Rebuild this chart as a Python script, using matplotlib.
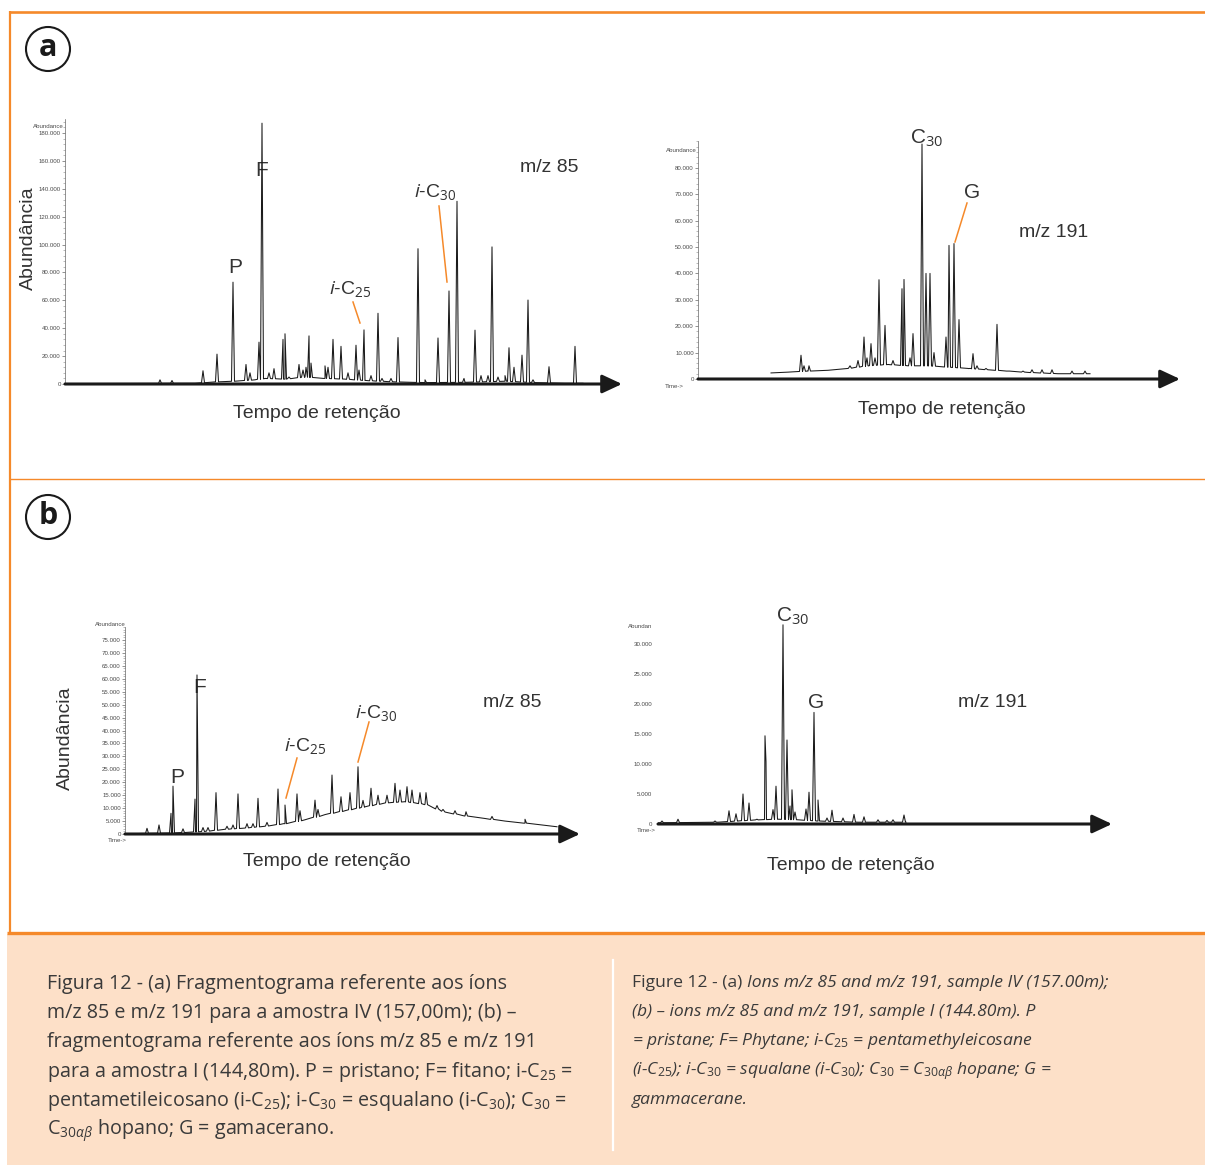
import numpy as np
import matplotlib
matplotlib.use('Agg')
import matplotlib.pyplot as plt
from matplotlib.patches import Circle, Rectangle
from matplotlib.ticker import FuncFormatter, MultipleLocator

# ---- data (retention in arbitrary units, abundance in counts)

# (a) m/z 85, sample IV
a85_base_rt = [0, 13, 15, 17, 19, 20, 22, 24, 26, 28, 30, 33, 36, 40, 44, 47, 50, 51.8]
a85_base_y = [300, 500, 1500, 2000, 3000, 4000, 3500, 5000, 4000, 3500, 2500, 1500, 1000, 1200, 2000, 1000, 500, 500]
a85_peak_rt = [9.5, 10.7, 13.8, 15.2, 16.8, 18.1, 18.5, 19.4, 19.7, 20.4, 20.9, 21.8, 22.0, 22.4,
               23.4, 23.8, 24.1, 24.4, 24.6, 26.0, 26.3, 26.8, 27.6, 28.3, 29.1, 29.4, 29.9, 30.6,
               31.3, 31.7, 32.6, 33.3, 35.3, 36.0, 37.3, 38.4, 39.2, 39.9, 41.0, 41.6, 42.3, 42.7,
               43.3, 44.0, 44.4, 44.9, 45.7, 46.3, 46.8, 48.4, 51.0]
a85_peak_h = [3000, 2500, 9500, 21400, 73000, 14000, 8000, 30000, 187000, 8000, 11000, 32000, 36000, 5000,
              14000, 10000, 12000, 34500, 15000, 13000, 12000, 32000, 27000, 8000, 27800, 10000, 38800, 6000,
              50700, 4000, 4000, 33300, 97000, 3000, 33000, 66700, 131000, 4000, 38600, 6000, 6000, 98300,
              5000, 6000, 26000, 12000, 20700, 60200, 3000, 12400, 27000]

# (a) m/z 191, sample IV
a191_base_rt = [7.3, 9, 11, 13, 15, 17, 19, 21, 23, 25, 27, 29, 31, 33, 36, 39.2]
a191_base_y = [2300, 2600, 3000, 3300, 4000, 5000, 5500, 5000, 5000, 4500, 4000, 3500, 3000, 2500, 2000, 2000]
a191_peak_rt = [10.3, 10.6, 11.1, 15.2, 16.0, 16.6, 16.9, 17.3, 17.7, 18.1, 18.7, 19.5, 20.4, 20.6,
                21.2, 21.5, 22.4, 22.8, 23.2, 23.6, 24.8, 25.1, 25.6, 26.1, 27.2, 27.5, 27.9, 28.8,
                29.9, 31.0, 32.5, 33.4, 34.4, 35.4, 37.4, 38.7]
a191_peak_h = [9000, 5000, 5000, 5000, 7000, 15900, 8000, 13400, 8000, 37600, 20300, 7000, 34200, 37700,
               8000, 17200, 89000, 40000, 40000, 10000, 15900, 50600, 51300, 22500, 4000, 9600, 5000, 4000,
               20700, 3000, 3000, 3500, 3500, 3500, 3000, 3000]

# (b) m/z 85, sample I
b85_base_rt = [1.5, 5, 8, 10, 12, 14, 16, 18, 20, 22, 24, 26, 28, 30, 32, 34, 36, 38, 40, 43.2]
b85_base_y = [200, 400, 1000, 1800, 2300, 3000, 4000, 5500, 7500, 9000, 10500, 12000, 12500, 11500,
              8500, 7000, 6000, 5000, 4200, 2800]
b85_peak_rt = [2.2, 3.4, 4.6, 4.8, 5.8, 7.0, 7.2, 7.8, 8.3, 9.1, 10.2, 10.8, 11.3, 12.2, 12.8, 13.3,
               14.2, 15.3, 16.0, 17.2, 17.5, 19.0, 19.3, 20.7, 21.6, 22.5, 23.3, 23.8, 24.6, 25.3,
               26.2, 27.0, 27.5, 28.2, 28.7, 29.5, 30.1, 31.2, 31.8, 33.0, 34.1, 36.7, 40.0]
b85_peak_h = [2200, 3500, 8000, 18500, 2000, 13500, 61500, 2500, 2500, 16000, 3000, 3500, 15500, 4000, 4000, 13800,
              4500, 17400, 11200, 15500, 9000, 13100, 9500, 22800, 14400, 16000, 26000, 13000, 17700, 15000,
              15000, 19600, 17000, 18300, 17000, 16000, 16000, 11000, 9500, 9000, 8600, 6800, 5700]

# (b) m/z 191, sample I
b191_base_rt = [0, 6, 8, 10, 12, 14, 16, 18, 20, 24.8]
b191_base_y = [200, 300, 500, 700, 800, 700, 500, 400, 300, 300]
b191_peak_rt = [0.4, 2.0, 5.7, 7.1, 7.8, 8.5, 9.1, 9.9, 10.7, 10.8, 11.5, 11.8, 12.5, 12.9, 13.2, 13.4,
                13.7, 14.8, 15.1, 15.6, 16.0, 16.9, 17.4, 18.5, 19.6, 20.6, 22.0, 22.9, 23.5, 24.6]
b191_peak_h = [500, 800, 500, 2200, 1700, 5000, 3500, 800, 14700, 10400, 2400, 6300, 33200, 14000, 3000, 5700,
               2000, 2500, 5300, 18600, 4000, 1000, 2300, 1000, 1600, 1200, 700, 600, 700, 1500]

caption_pt = [
    "Figura 12 - (a) Fragmentograma referente aos íons",
    "m/z 85 e m/z 191 para a amostra IV (157,00m); (b) –",
    "fragmentograma referente aos íons m/z 85 e m/z 191",
    "para a amostra I (144,80m). P = pristano; F= fitano; i-C$_{25}$ =",
    "pentametileicosano (i-C$_{25}$); i-C$_{30}$ = esqualano (i-C$_{30}$); C$_{30}$ =",
    "C$_{30\\alpha\\beta}$ hopano; G = gamacerano.",
]
caption_en_head = "Figure 12 - (a) "
caption_en = [
    "Ions m/z 85 and m/z 191, sample IV (157.00m);",
    "(b) – ions m/z 85 and m/z 191, sample I (144.80m). P",
    "= pristane; F= Phytane; i-C$_{\\mathit{25}}$ = pentamethyleicosane",
    "(i-C$_{\\mathit{25}}$); i-C$_{\\mathit{30}}$ = squalane (i-C$_{\\mathit{30}}$); C$_{\\mathit{30}}$ = "
    "C$_{\\mathit{30}\\alpha\\beta}$ hopane; G =",
    "gammacerane.",
]

ORANGE = '#F5892A'
PEACH = '#FDE0C8'
INK = '#333333'
W, H = 1205, 1165

plt.rcParams['font.family'] = ['Liberation Sans', 'DejaVu Sans']
plt.rcParams['mathtext.fontset'] = 'custom'
plt.rcParams['mathtext.rm'] = 'Open Sans'
plt.rcParams['mathtext.it'] = 'Open Sans:italic'

fig = plt.figure(figsize=(W / 100, H / 100), dpi=100)

# full-figure overlay in pixel units
ov = fig.add_axes([0, 0, 1, 1])
ov.set_xlim(0, W)
ov.set_ylim(H, 0)
ov.axis('off')

# frames
ov.add_patch(Rectangle((7, 934), W - 7, H - 934, fc=PEACH, ec='none'))
ov.plot([9, W], [12, 12], color=ORANGE, lw=1.9, solid_capstyle='butt')
ov.plot([10, 10], [11, 934], color=ORANGE, lw=1.6, solid_capstyle='butt')
ov.plot([10, W], [478.5, 478.5], color=ORANGE, lw=1.0)
ov.plot([7, W], [933, 933], color=ORANGE, lw=2.4, solid_capstyle='butt')
ov.plot([613, 613], [960, 1150], color='white', lw=1.6)

for lab, cy, base in [('a', 49, 56), ('b', 517, 524)]:
    ov.add_patch(Circle((48, cy), 22, fill=False, lw=1.5, ec='#1a1a1a'))
    ov.text(48, base, lab, ha='center', va='baseline', fontsize=22, fontweight='bold',
            family='Open Sans', color='#1a1a1a')


def px_axes(x0, x1, y_top, y_bot):
    return fig.add_axes([x0 / W, 1 - y_bot / H, (x1 - x0) / W, (y_bot - y_top) / H])


def trace(base_rt, base_y, pk_rt, pk_h, w=0.15):
    xs = list(base_rt)
    ys = list(base_y)
    for r, h in zip(pk_rt, pk_h):
        b = np.interp(r, base_rt, base_y)
        xs += [r - w, r, r + w]
        ys += [b, h, b]
    order = np.argsort(xs, kind='stable')
    return np.array(xs)[order], np.array(ys)[order]


thou = FuncFormatter(lambda v, p: '0' if v == 0 else f"{v:,.0f}".replace(',', '.'))


def chromatogram(ax, data, ymax, tmax, step, minor, xmax, spine=True, pad=1):
    x, y = trace(*data)
    ax.plot(x, y, color='#1a1a1a', lw=0.75)
    ax.patch.set_alpha(0)
    for s in ['top', 'right', 'bottom']:
        ax.spines[s].set_visible(False)
    ax.spines['left'].set_visible(spine)
    ax.spines['left'].set_color('#666666')
    ax.spines['left'].set_linewidth(0.5)
    ax.set_xticks([])
    ax.set_yticks(np.arange(0, tmax + 1, step))
    ax.yaxis.set_minor_locator(MultipleLocator(minor))
    ax.yaxis.set_major_formatter(thou)
    ax.set_xlim(0, xmax)
    ax.set_ylim(0, ymax)
    ax.tick_params(axis='y', which='major', labelsize=4.4, labelcolor='#4a4a4a', color='#666666',
                   length=2 if spine else 0, width=0.5, pad=pad)
    ax.tick_params(axis='y', which='minor', length=1.2 if spine else 0, width=0.4, color='#888888')
    ax.annotate('', xy=(1, 0), xytext=(0, 0), xycoords='axes fraction',
                arrowprops=dict(arrowstyle='-|>,head_length=0.6,head_width=0.28', lw=2.2,
                                color='#1a1a1a', mutation_scale=20, shrinkA=0, shrinkB=0),
                annotation_clip=False)


ax1 = px_axes(65, 622, 385 - 190000 / 20000 * 28, 384)
chromatogram(ax1, (a85_base_rt, a85_base_y, a85_peak_rt, a85_peak_h), 190000, 180000, 20000, 4000, 55.7)
ax2 = px_axes(698, 1180, 379 - 9 * 26.4, 379)
chromatogram(ax2, (a191_base_rt, a191_base_y, a191_peak_rt, a191_peak_h), 90000, 80000, 10000, 2000, 48.2)
ax3 = px_axes(125, 580, 834 - 16 * 12.93, 834)
chromatogram(ax3, (b85_base_rt, b85_base_y, b85_peak_rt, b85_peak_h), 80000, 75000, 5000, 1000, 45.5)
ax4 = px_axes(658, 1112, 824 - 34000 / 5000 * 30, 824)
chromatogram(ax4, (b191_base_rt, b191_base_y, b191_peak_rt, b191_peak_h), 34000, 30000, 5000, 1000, 45.4,
             spine=False, pad=4)

# small instrument texts
small = dict(fontsize=4.4, color='#4a4a4a')
ov.text(64, 127, 'Abundance', ha='right', va='center', **small)
ov.text(697, 150, 'Abundance', ha='right', va='center', **small)
ov.text(126, 625, 'Abundance', ha='right', va='center', **small)
ov.text(652, 627, 'Abundan', ha='right', va='center', **small)
ov.text(665, 387, 'Time->', ha='left', va='center', **small)
ov.text(108, 840, 'Time->', ha='left', va='center', **small)
ov.text(637, 830, 'Time->', ha='left', va='center', **small)

# annotations
lab = dict(color=INK, va='baseline')
ic25 = '$\\mathit{i}$-C$_{25}$'
ic30 = '$\\mathit{i}$-C$_{30}$'
c30 = 'C$_{30}$'

ov.text(28, 238, 'Abundância', rotation=90, ha='center', va='center', fontsize=14, color=INK)
ov.text(65, 738, 'Abundância', rotation=90, ha='center', va='center', fontsize=14, color=INK)

ov.text(235, 273, 'P', ha='center', fontsize=15, **lab)
ov.text(262, 176, 'F', ha='center', fontsize=15, **lab)
ov.text(329, 294, ic25, ha='left', fontsize=14, **lab)
ov.text(414, 197, ic30, ha='left', fontsize=14, **lab)
ov.plot([353, 360], [302, 323], color=ORANGE, lw=1.1)
ov.plot([439, 447], [206, 282], color=ORANGE, lw=1.1)
ov.text(520, 172, 'm/z 85', ha='left', fontsize=14, **lab)
ov.text(317, 418, 'Tempo de retenção', ha='center', fontsize=14, **lab)

ov.text(910, 143, c30, ha='left', fontsize=15, **lab)
ov.text(972, 198, 'G', ha='center', fontsize=15, **lab)
ov.plot([967, 955], [203, 242], color=ORANGE, lw=1.1)
ov.text(1019, 237, 'm/z 191', ha='left', fontsize=14, **lab)
ov.text(942, 414, 'Tempo de retenção', ha='center', fontsize=14, **lab)

ov.text(177, 783, 'P', ha='center', fontsize=15, **lab)
ov.text(200, 693, 'F', ha='center', fontsize=15, **lab)
ov.text(284, 751, ic25, ha='left', fontsize=14, **lab)
ov.text(355, 718, ic30, ha='left', fontsize=14, **lab)
ov.plot([297, 286], [758, 798], color=ORANGE, lw=1.1)
ov.plot([369, 358], [722, 762], color=ORANGE, lw=1.1)
ov.text(483, 707, 'm/z 85', ha='left', fontsize=14, **lab)
ov.text(327, 866, 'Tempo de retenção', ha='center', fontsize=14, **lab)

ov.text(776, 621, c30, ha='left', fontsize=15, **lab)
ov.text(816, 708, 'G', ha='center', fontsize=15, **lab)
ov.text(958, 707, 'm/z 191', ha='left', fontsize=14, **lab)
ov.text(851, 870, 'Tempo de retenção', ha='center', fontsize=14, **lab)

# captions
cap = dict(family='Open Sans', color='#3a3a3a', va='baseline')
for i, line in enumerate(caption_pt):
    ov.text(47, 989 + 29.2 * i, line, ha='left', fontsize=14.2, **cap)

renderer = fig.canvas.get_renderer()
head = ov.text(632, 987, caption_en_head, ha='left', fontsize=12.6, **cap)
hw = head.get_window_extent(renderer=renderer).width
for i, line in enumerate(caption_en):
    x0 = 632 + hw if i == 0 else 632
    ov.text(x0, 987 + 29.2 * i, line, ha='left', style='italic', fontsize=12.6, **cap)

fig.savefig('out.png', dpi=100)
